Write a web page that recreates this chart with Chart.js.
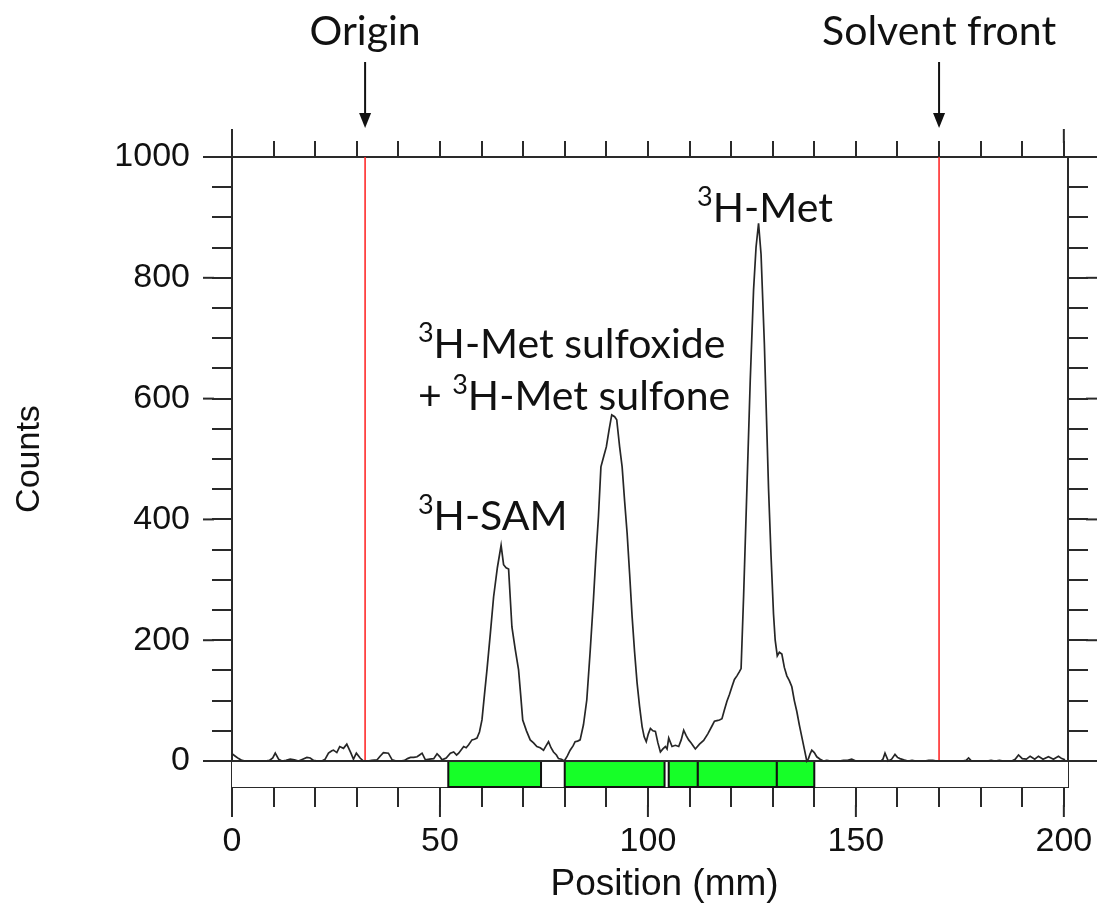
<!DOCTYPE html>
<html><head><meta charset="utf-8">
<script src="https://cdn.jsdelivr.net/npm/chart.js@4.4.1/dist/chart.umd.min.js"></script>
<style>html,body{margin:0;padding:0;background:#fff;}#wrap{width:1099px;height:905px;position:relative;}</style>
</head><body><div id="wrap"><canvas id="c" width="1099" height="905"></canvas></div>
<script>
// ---- data ----
const positions = [0,0.8,1.6,2.4,3.2,4,5,6,7,8,9,9.8,10.4,11.2,12,13,14,15,16,17,18,18.8,19.6,20.6,21.6,22.4,23.2,24,24.4,25.2,25.9,26.8,27.6,28.6,29.2,29.9,30.8,31.6,32.6,33.6,34.9,35.6,36.4,37.6,38.5,39.5,40.5,41.5,42.2,42.9,43.7,44.5,45.1,45.7,46.5,47.5,48.5,49.3,50,50.5,51.5,52.5,53.3,54,54.5,55.7,56.3,56.9,57.7,58.3,58.9,59.5,60.1,60.7,61.3,62.1,62.9,63.8,64.7,65.3,65.9,66.5,67.3,68.1,68.9,69.4,69.9,70.8,71.7,72.5,73.3,74.1,74.9,75.5,76.1,76.7,77.3,78,78.5,79.2,79.9,80.6,81.3,82,82.5,83.1,83.7,84.5,85.3,86.1,86.9,87.5,88.1,88.7,89.4,90,90.7,91.3,92,92.5,93.2,93.8,94.4,95,95.6,96.2,96.8,97.4,98,98.6,99.1,99.6,100.1,100.6,101.2,101.8,102.4,103,103.6,104.2,104.6,105,105.8,106.6,107.4,108,108.6,109.2,109.8,110.4,110.9,111.4,112.4,113.4,114.4,115.4,116,116.6,117.2,117.8,118.4,119,119.6,120.2,120.8,121.4,122,122.4,123,123.8,124.6,125.4,126,126.6,127.2,128,128.5,129,129.6,130.2,130.6,131.1,131.6,132.2,132.8,133.4,134,134.6,135.2,135.8,136.4,137,137.6,138.2,138.6,139,139.4,140,140.6,141.4,142.2,143,144,145,146,147,148,149,150,151,152,153,154,155,156,156.5,157,157.8,158.6,159.4,160,160.6,161.5,162.5,163.5,164.5,165.5,166.5,167.5,168.5,169.5,170.5,171.5,172.5,173.5,174.5,175.5,176.5,177.1,177.8,178.5,179.5,180.5,181.5,182.5,183.5,184.5,185.5,186.5,187.5,188.3,189.1,190,191,191.9,193,193.9,195,196.3,197.5,198.7,199.5,200.3];
const counts = [12,8,4,1,0,0,0,0,0,0,1,5,13,3,0,1,3,2,0,3,6,5,1,0,0,3,13,17,18,14,24,21,28,13,3,13,5,0,0,1,2,8,14,13,2,0,0,1,4,6,6,7,10,13,2,3,4,12,7,2,5,13,15,10,13,24,22,27,35,36,38,48,68,110,151,210,272,320,357,325,320,318,222,185,151,110,68,50,35,30,24,22,18,25,32,22,15,10,4,3,0,8,18,25,32,33,35,60,101,180,267,340,404,487,505,520,550,573,570,565,520,487,430,377,310,239,180,129,90,57,40,32,45,54,50,49,30,15,20,24,20,38,24,26,24,35,51,42,35,30,25,20,28,34,45,58,66,67,68,70,85,99,110,123,135,141,148,153,272,451,630,780,851,890,839,690,570,451,340,243,200,174,180,177,155,141,133,123,100,82,60,40,20,0,4,12,18,14,7,3,0,1,0,0,0,1,1,3,0,0,0,0,0,0,0,3,13,0,3,11,6,4,2,0,1,0,0,0,1,1,0,0,0,0,0,0,0,1,5,0,0,0,0,0,1,0,1,0,0,0,3,10,4,3,8,3,8,3,7,3,8,4,2];
const xMajorTicks = [0,50,100,150,200];
const yMajorTicks = [0,200,400,600,800,1000];
const bandStarts = [52,80,105,112,131];
const bandEnds   = [74.3,104,112,131,140];
const markerPositions = [32,170];
const markerLabels = ['Origin','Solvent front'];
const peakSups  = ['3','3','3','3'];
const peakPre   = ['','','+ ',''];
const peakTexts = ['H-SAM','H-Met sulfoxide','H-Met sulfone','H-Met'];
const peakLabelX = [44.7,44.7,44.7,111.8];
const peakLabelY = [382,667,581,892];
const xTitle = 'Position (mm)';
const yTitle = 'Counts';

// ---- layout / style ----
const X_MIN=0, X_MAX=201, Y_MIN=-43, Y_MAX=1000;
const X_MINOR=10, Y_MINOR=50;
const AXIS_COLOR='#2a2a2a';
const TICK_FAMILY="'Liberation Sans', Arial, sans-serif";
const TICK_FONT={family:TICK_FAMILY, size:34};
const LABEL_FONT="Lato, 'Open Sans', sans-serif";

function stepTicks(min,max,step){const t=[];for(let v=min;v<=max+1e-9;v+=step)t.push({value:v});return t;}

const decor={
  id:'decor',
  beforeDatasetsDraw(chart){
    const {ctx,chartArea:a,scales:{x,y}}=chart;
    const y0=y.getPixelForValue(0), yb=y.getPixelForValue(Y_MIN);
    ctx.save();
    ctx.strokeStyle='#ff2b2b'; ctx.lineWidth=1.6;
    markerPositions.forEach(m=>{const px=x.getPixelForValue(m);ctx.beginPath();ctx.moveTo(px,a.top);ctx.lineTo(px,y0);ctx.stroke();});
    ctx.fillStyle='#fff'; ctx.fillRect(a.left,y0,a.right-a.left,yb-y0);
    bandStarts.forEach((s,i)=>{
      const l=x.getPixelForValue(s), r=x.getPixelForValue(bandEnds[i]);
      ctx.fillStyle='#16ff28'; ctx.fillRect(l,y0,r-l,yb-y0);
      ctx.strokeStyle='#111'; ctx.lineWidth=2; ctx.strokeRect(l,y0,r-l,yb-y0);
    });
    ctx.strokeStyle=AXIS_COLOR; ctx.lineWidth=2;
    ctx.beginPath(); ctx.moveTo(a.left,y0); ctx.lineTo(a.right,y0); ctx.stroke();
    ctx.restore();
  },
  afterDraw(chart){
    const {ctx,chartArea:a,scales:{x,y}}=chart;
    ctx.save();
    // longer major ticks
    ctx.strokeStyle=AXIS_COLOR; ctx.lineWidth=2;
    xMajorTicks.forEach(v=>{const px=x.getPixelForValue(v);ctx.beginPath();ctx.moveTo(px,a.bottom+18);ctx.lineTo(px,a.bottom+30);ctx.stroke();});
    [X_MIN,200].forEach(v=>{const px=x.getPixelForValue(v);ctx.beginPath();ctx.moveTo(px,a.top-14);ctx.lineTo(px,a.top-28);ctx.stroke();});
    yMajorTicks.forEach(v=>{const py=y.getPixelForValue(v);
      ctx.beginPath();ctx.moveTo(a.left-18,py);ctx.lineTo(a.left-29,py);ctx.stroke();
      ctx.beginPath();ctx.moveTo(a.right+18,py);ctx.lineTo(a.right+29,py);ctx.stroke();});
    // axis titles
    ctx.fillStyle='#111';
    ctx.font='37px '+TICK_FAMILY; ctx.textAlign='center'; ctx.textBaseline='middle';
    ctx.fillText(xTitle,x.getPixelForValue(104),885);
    ctx.save(); ctx.translate(30,(y.getPixelForValue(0)+y.getPixelForValue(1000))/2); ctx.rotate(-Math.PI/2);
    ctx.font='34px '+TICK_FAMILY; ctx.fillText(yTitle,0,0); ctx.restore();
    // top labels and arrows
    ctx.fillStyle='#111'; ctx.strokeStyle='#111';
    ctx.font='41px '+LABEL_FONT; ctx.textAlign='center'; ctx.textBaseline='alphabetic';
    markerPositions.forEach((m,i)=>{
      const px=x.getPixelForValue(m);
      ctx.fillText(markerLabels[i],px,45);
      ctx.lineWidth=2; ctx.beginPath(); ctx.moveTo(px,62); ctx.lineTo(px,118); ctx.stroke();
      ctx.beginPath(); ctx.moveTo(px-6,113); ctx.lineTo(px+6,113); ctx.lineTo(px,128); ctx.closePath(); ctx.fill();
    });
    // peak labels
    ctx.textAlign='left';
    peakTexts.forEach((t,i)=>{
      let px=x.getPixelForValue(peakLabelX[i]); const py=y.getPixelForValue(peakLabelY[i]);
      ctx.font='41px '+LABEL_FONT;
      if(peakPre[i]){ctx.fillText(peakPre[i],px,py);px+=ctx.measureText(peakPre[i]).width;}
      ctx.font='27px '+LABEL_FONT; ctx.fillText(peakSups[i],px,py-16); px+=ctx.measureText(peakSups[i]).width;
      ctx.font='41px '+LABEL_FONT; ctx.fillText(t,px,py);
    });
    ctx.restore();
  }
};

const gridBase={drawOnChartArea:false,color:AXIS_COLOR,lineWidth:2,tickLength:20};
const borderBase={display:true,color:AXIS_COLOR,width:2};
const noPad=s=>{s.paddingLeft=0;s.paddingRight=0;s.paddingTop=0;s.paddingBottom=0;};

new Chart(document.getElementById('c'),{
  type:'line',
  data:{datasets:[{data:positions.map((p,i)=>({x:p,y:counts[i]})),borderColor:'#262626',borderWidth:1.7,pointRadius:0,tension:0,fill:false}]},
  options:{
    responsive:false,animation:false,
    layout:{padding:{top:127,left:0,right:0,bottom:0}},
    plugins:{legend:{display:false},tooltip:{enabled:false}},
    scales:{
      x:{type:'linear',position:'bottom',min:X_MIN,max:X_MAX,
        afterBuildTicks:s=>{s.ticks=stepTicks(0,200,X_MINOR);},
        afterFit:s=>{s.height=118;noPad(s);},
        grid:gridBase,border:borderBase,
        ticks:{autoSkip:false,maxRotation:0,padding:14,color:'#111',font:TICK_FONT,callback:v=>xMajorTicks.includes(v)?String(v):''}},
      xTop:{type:'linear',position:'top',min:X_MIN,max:X_MAX,
        afterBuildTicks:s=>{s.ticks=stepTicks(0,200,X_MINOR);},
        afterFit:s=>{s.height=30;noPad(s);},
        grid:{...gridBase,tickLength:16},border:borderBase,ticks:{display:false}},
      y:{type:'linear',position:'left',min:Y_MIN,max:Y_MAX,
        afterBuildTicks:s=>{s.ticks=stepTicks(0,1000,Y_MINOR);},
        afterFit:s=>{s.width=232;noPad(s);},
        grid:gridBase,border:borderBase,
        ticks:{autoSkip:false,padding:22,color:'#111',font:TICK_FONT,callback:v=>yMajorTicks.includes(v)?String(v):''}},
      yRight:{type:'linear',position:'right',min:Y_MIN,max:Y_MAX,
        afterBuildTicks:s=>{s.ticks=stepTicks(0,1000,Y_MINOR);},
        afterFit:s=>{s.width=31;noPad(s);},
        grid:gridBase,border:borderBase,ticks:{display:false}}
    }
  },
  plugins:[decor]
});
</script></body></html>
